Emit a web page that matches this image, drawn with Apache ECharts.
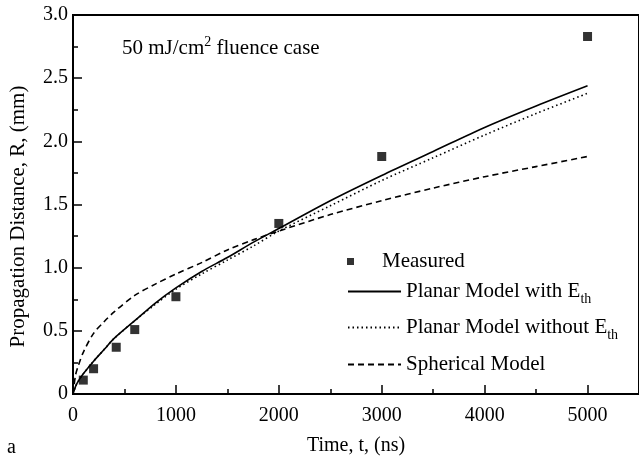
<!DOCTYPE html>
<html>
<head>
<meta charset="utf-8">
<script src="https://cdn.jsdelivr.net/npm/echarts@6/dist/echarts.min.js"></script>
<style>
html,body{margin:0;padding:0;background:#fff;}
#chart{width:639px;height:461px;}
</style>
</head>
<body>
<div id="chart"></div>
<script>
// ---- data ----
const measuredT = [100, 200, 420, 600, 1000, 2000, 3000, 5000];
const measuredR = [0.11, 0.20, 0.37, 0.51, 0.77, 1.35, 1.88, 2.83];

const modelT = [0, 25, 50, 100, 200, 300, 400, 600, 800, 1000, 1250, 1500, 1750, 2000, 2500, 3000, 3500, 4000, 4500, 5000];
const planarWithEth    = [0, 0.06, 0.10, 0.16, 0.26, 0.35, 0.44, 0.58, 0.72, 0.84, 0.97, 1.08, 1.20, 1.31, 1.53, 1.73, 1.92, 2.11, 2.28, 2.44];
const planarWithoutEth = [0, 0.06, 0.10, 0.16, 0.26, 0.35, 0.44, 0.58, 0.71, 0.83, 0.95, 1.06, 1.17, 1.29, 1.49, 1.69, 1.87, 2.05, 2.22, 2.38];
const sphericalModel   = [0, 0.15, 0.22, 0.33, 0.48, 0.57, 0.65, 0.78, 0.87, 0.95, 1.04, 1.14, 1.22, 1.29, 1.42, 1.53, 1.63, 1.72, 1.80, 1.88];

const seriesNames = ['Measured', 'Planar Model with Eth', 'Planar Model without Eth', 'Spherical Model'];

// ---- chart ----
const FONT = 'Liberation Serif';
const pairs = (xs, ys) => xs.map((x, i) => [x, ys[i]]);

const legendCommon = {
  orient: 'vertical',
  left: 347,
  padding: 0,
  itemWidth: 53,
  itemHeight: 14,
  itemGap: 0,
  inactiveColor: '#000',
  selectedMode: false,
  itemStyle: {color: 'rgba(0,0,0,0)', borderWidth: 0},
  textStyle: {
    fontFamily: FONT, fontSize: 21, color: '#000',
    rich: {
      sub: {fontFamily: FONT, fontSize: 14, color: '#000', padding: [16, 0, 0, 0]}
    }
  },
  formatter: function (n) { return n.replace(/Eth$/, 'E{sub|th}'); }
};

const option = {
  animation: false,
  backgroundColor: '#fff',
  title: {
    text: '50 mJ/cm{sup|2} fluence case',
    left: 122, top: 35, padding: 0,
    textStyle: {
      fontFamily: FONT, fontSize: 21, fontWeight: 'normal', color: '#000',
      rich: {sup: {fontFamily: FONT, fontSize: 14, color: '#000', padding: [0, 0, 12, 0]}}
    }
  },
  graphic: [{
    type: 'text', left: 7, top: 438,
    style: {text: 'a', font: '20px "Liberation Serif"', fill: '#000'}
  }],
  legend: [
    Object.assign({}, legendCommon, {data: [{name: seriesNames[0], icon: 'path://M0,0h1v1h-1z', itemStyle: {color: '#000'}}], top: 251, itemHeight: 7}),
    Object.assign({}, legendCommon, {data: [seriesNames[1]], top: 281}),
    Object.assign({}, legendCommon, {data: [seriesNames[2]], top: 317}),
    Object.assign({}, legendCommon, {data: [seriesNames[3]], top: 354})
  ],
  grid: {
    left: 72, top: 15, width: 570, height: 379,
    show: true, borderColor: '#000', borderWidth: 2, backgroundColor: 'transparent',
    containLabel: false
  },
  xAxis: [{
    type: 'value', min: 0, max: 5500, interval: 1000,
    name: 'Time, t, (ns)', nameLocation: 'middle', nameGap: 42,
    nameTextStyle: {fontFamily: FONT, fontSize: 20, color: '#000'},
    axisLine: {show: true, onZero: false, lineStyle: {color: '#000', width: 2}},
    axisTick: {show: true, inside: true, length: 9, lineStyle: {color: '#000', width: 1.5}},
    axisLabel: {fontFamily: FONT, fontSize: 20, color: '#000', margin: 12, showMaxLabel: false,
      formatter: v => String(v)},
    splitLine: {show: false}
  }, {
    type: 'value', min: 0, max: 5500, interval: 500, position: 'bottom',
    axisLine: {show: false},
    axisTick: {show: true, inside: true, length: 5, lineStyle: {color: '#000', width: 1.5}},
    axisLabel: {show: false},
    splitLine: {show: false}
  }],
  yAxis: [{
    type: 'value', min: 0, max: 3, interval: 0.5,
    name: 'Propagation Distance, R, (mm)', nameLocation: 'middle', nameGap: 44,
    nameTextStyle: {fontFamily: FONT, fontSize: 21, color: '#000', padding: [0, 24, 0, 0]},
    axisLine: {show: true, onZero: false, lineStyle: {color: '#000', width: 2}},
    axisTick: {show: true, inside: true, length: 9, lineStyle: {color: '#000', width: 1.5}},
    minorTick: {show: true, splitNumber: 2, length: 5, lineStyle: {color: '#000', width: 1.5}},
    axisLabel: {fontFamily: FONT, fontSize: 20, color: '#000', margin: 5,
      formatter: v => (v === 0 ? '0' : v.toFixed(1))},
    splitLine: {show: false}
  }],
  series: [
    {
      name: seriesNames[0], type: 'scatter', symbol: 'rect', symbolSize: 9,
      itemStyle: {color: '#000'},
      data: pairs(measuredT, measuredR), z: 5
    },
    {
      name: seriesNames[1], type: 'line', symbol: 'none', smooth: 0.3,
      lineStyle: {color: '#000', width: 1.6, type: 'solid'}, itemStyle: {color: '#000'},
      data: pairs(modelT, planarWithEth)
    },
    {
      name: seriesNames[2], type: 'line', symbol: 'none', smooth: 0.3,
      lineStyle: {color: '#000', width: 1.6, type: [1.5, 3]}, itemStyle: {color: '#000'},
      data: pairs(modelT, planarWithoutEth)
    },
    {
      name: seriesNames[3], type: 'line', symbol: 'none', smooth: 0.3,
      lineStyle: {color: '#000', width: 1.6, type: [6, 4]}, itemStyle: {color: '#000'},
      data: pairs(modelT, sphericalModel)
    }
  ]
};

const chart = echarts.init(document.getElementById('chart'), null, {renderer: 'canvas'});
chart.setOption(option);
</script>
</body>
</html>
